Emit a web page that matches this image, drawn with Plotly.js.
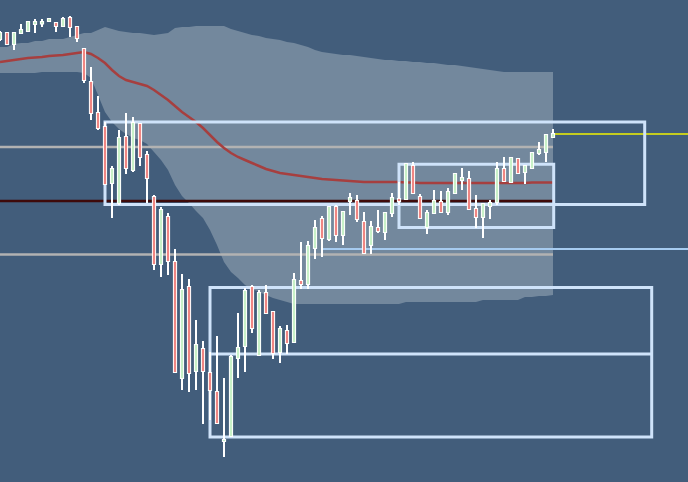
<!DOCTYPE html>
<html>
<head>
<meta charset="utf-8">
<script src="https://cdn.plot.ly/plotly-3.0.1.min.js"></script>
<style>
  html, body { margin: 0; padding: 0; background: #425d7b; }
  #chart { width: 688px; height: 482px; }
</style>
</head>
<body>
<div id="chart"></div>
<script>
// OHLC per bar
const open = [
  443, 449, 438, 449, 451, 458, 458.5, 461, 459, 456,
  464, 455, 433, 400, 369, 355, 299, 279, 345, 312,
  358, 327, 285, 218, 265, 220, 104, 195, 111, 133,
  109, 90, 41, 46, 124, 136, 195, 127, 189, 170,
  130, 151, 140, 201, 198, 234, 263, 243, 275, 247,
  281, 281, 260, 237, 254, 250, 269, 283, 283, 316,
  285, 255, 269, 280, 270, 289, 302, 303, 273, 265,
  276, 280, 313, 300, 323, 310, 314, 329, 330, 345
];
const high = [
  451, 450, 450, 458, 461, 463, 463, 464, 459.5, 465,
  466, 456, 434, 415, 386, 360, 316, 352, 369, 365,
  359, 331, 287, 275, 269, 233, 208, 203, 162, 141,
  130, 146, 104, 127, 169, 194, 197, 192, 197, 171,
  156, 157, 209, 240, 241, 262, 266, 276, 277, 271,
  289, 287, 270, 261, 272, 270, 289, 300, 319, 320,
  288, 272, 292, 291, 294, 309, 314, 311, 287, 279,
  282, 320, 325, 325, 324, 317, 330, 340, 348, 353
];
const low = [
  441, 437, 432, 448, 450, 449, 455, 460, 450, 455.5,
  445, 440, 399, 362, 352, 297, 264, 277, 308, 310,
  316, 279, 212, 205, 207, 109, 92, 90, 92, 58,
  62, 58, 25, 45, 104, 110, 149, 126, 168, 123,
  119, 128, 139, 193, 193, 223, 225, 241, 240, 237,
  267, 260, 228, 228, 249, 242, 265, 277, 282, 288.5,
  263, 248, 268, 269.5, 267, 288.5, 292, 272, 254, 244,
  263, 277, 300, 299, 308, 298, 313, 327, 320, 344.5
];
const close = [
  449, 438, 449, 452, 460, 460, 460, 463, 456, 463,
  455, 444, 402, 369, 354, 298, 313, 344, 314, 359,
  325, 304, 218, 272, 221, 110, 192, 109, 137, 111,
  92, 59, 42, 125, 134, 191, 154, 189, 169, 129,
  153, 139, 202, 198, 236, 254, 244, 275, 247, 270,
  284, 263, 229, 255, 251, 269, 284, 281, 318, 289,
  264, 269, 281, 270, 290, 308, 304, 273, 265, 278,
  279, 313, 301, 324, 309, 316, 329, 332, 347, 348
];

// Moving average
const movingAvg = [
  420, 421, 422, 423, 424, 424.5, 425, 426, 426.5, 427,
  428, 429, 430, 428, 424, 419, 412, 406, 402, 400,
  398, 396, 392, 387, 382, 376, 370, 365, 360, 354,
  347, 340, 334, 329, 325, 322, 319, 316, 313, 311,
  309, 308, 307, 306, 305, 304, 303, 302.5, 302, 301.5,
  301, 300.5, 300, 300, 300, 300, 300, 300, 299.5, 299.5,
  299, 299, 299, 299, 299, 299, 299, 299, 299, 299,
  299, 299, 299, 299, 299, 299, 299.5, 299.5, 299.5, 299.5
];

// Envelope band
const bandUpper = [
  435, 435, 438, 439, 439, 441, 441, 443, 443, 443,
  445, 447, 449, 449, 452, 455, 453, 451, 450, 449,
  449, 448, 447, 448, 449, 454, 455, 455, 456, 456,
  456, 456, 456, 453, 451, 449, 447, 446, 444, 443,
  442, 440, 439, 437, 435, 432, 430, 429, 428, 427,
  427, 426, 425, 424, 423, 422, 422, 421, 421, 420,
  420, 419, 419, 418, 417, 417, 416, 415, 414, 413,
  412, 411, 410, 410, 410, 410, 410, 410, 410, 410
];
const bandLower = [
  409, 409, 409, 409, 409, 409, 410, 410, 410, 410,
  410, 410, 409, 404, 387, 370, 360, 353, 348, 344,
  342, 338, 330, 322, 312, 297, 286, 279, 271, 264,
  252, 237, 220, 210, 204, 197, 193, 190, 187, 184,
  182, 180, 178, 178, 178, 178, 178, 178, 178, 178,
  178, 178, 178, 178, 178, 178, 178, 178, 180, 180,
  180, 180, 180, 180, 180, 180, 180, 180, 180, 182,
  182, 182, 182, 182, 182, 185, 185, 186, 186, 187
];

// Horizontal levels
const resistanceLevel = 335;
const supportLevel = 227.5;
const pivotLevel = 281;
const retestLevel = 233;
const retestStartBar = 46;

// Zones: [startBar, endBar, bottom, top]
const zoneUpper = [15, 92.1, 277.5, 360];
const zoneRange = [57, 79.1, 254.5, 317.7];
const zoneLower = [30, 93.1, 45, 194.5];
const zoneLowerMid = 128;

const bars = open.map((_, i) => i);
const lastBar = bars[bars.length - 1];
const lastClose = close[close.length - 1];

function pathThrough(xs, ys, cmd) {
  return xs.map((x, k) => (k === 0 ? cmd : 'L') + x + ',' + ys[k]).join('');
}

const bandPath =
  pathThrough(bars, bandUpper, 'M') +
  pathThrough(bars.slice().reverse(), bandLower.slice().reverse(), 'L') + 'Z';
const maPath = pathThrough(bars, movingAvg, 'M');

function hLine(y, x0, x1, color, width) {
  return { type: 'line', xref: 'x', yref: 'y', x0: x0, x1: x1, y0: y, y1: y,
           line: { color: color, width: width }, layer: 'below' };
}
function zoneRect(z, color) {
  return { type: 'rect', xref: 'x', yref: 'y', x0: z[0], x1: z[1], y0: z[2], y1: z[3],
           line: { color: color, width: 3 }, fillcolor: 'rgba(0,0,0,0)', layer: 'below' };
}

const zoneColor = '#cfe3fa';
const shapes = [
  { type: 'path', xref: 'x', yref: 'y', path: bandPath, fillcolor: '#73889d',
    line: { width: 0 }, layer: 'below' },
  hLine(resistanceLevel, 0, lastBar, '#b2b2b2', 2.5),
  hLine(supportLevel, 0, lastBar, '#b2b2b2', 2.5),
  { type: 'path', xref: 'x', yref: 'y', path: maPath,
    line: { color: '#a63f3f', width: 2.5 }, layer: 'below' },
  hLine(pivotLevel, 0, lastBar, '#3e0a0a', 2.5),
  hLine(retestLevel, retestStartBar, 99, '#a6cbf0', 2),
  hLine(lastClose, lastBar, 99, '#f2f200', 1.5),
  zoneRect(zoneUpper, zoneColor),
  zoneRect(zoneRange, zoneColor),
  zoneRect(zoneLower, zoneColor),
  hLine(zoneLowerMid, zoneLower[0], zoneLower[1], zoneColor, 3)
];

// White wicks and body outlines, then the coloured bodies on top
const candleOutline = {
  type: 'candlestick',
  x: bars, open: open, high: high, low: low, close: close,
  whiskerwidth: 0,
  increasing: { line: { color: '#ffffff', width: 2 }, fillcolor: '#ffffff' },
  decreasing: { line: { color: '#ffffff', width: 2 }, fillcolor: '#ffffff' },
  hoverinfo: 'skip'
};
const candleBodies = {
  type: 'candlestick',
  x: bars, open: open, high: high, low: low, close: close,
  whiskerwidth: 0,
  increasing: { line: { color: 'rgba(0,0,0,0)', width: 0 }, fillcolor: '#c8f1c8' },
  decreasing: { line: { color: 'rgba(0,0,0,0)', width: 0 }, fillcolor: '#f08683' },
  hoverinfo: 'skip'
};

const layout = {
  width: 688, height: 482,
  margin: { l: 0, r: 0, t: 0, b: 0, pad: 0 },
  paper_bgcolor: '#425d7b',
  plot_bgcolor: '#425d7b',
  showlegend: false,
  hovermode: false,
  boxmode: 'overlay',
  boxgap: 0.55,
  xaxis: { range: [0, 688 / 7], visible: false, rangeslider: { visible: false }, fixedrange: true },
  yaxis: { range: [0, 482], visible: false, fixedrange: true },
  shapes: shapes
};

Plotly.newPlot('chart', [candleOutline, candleBodies], layout, { displayModeBar: false, staticPlot: true });
</script>
</body>
</html>
